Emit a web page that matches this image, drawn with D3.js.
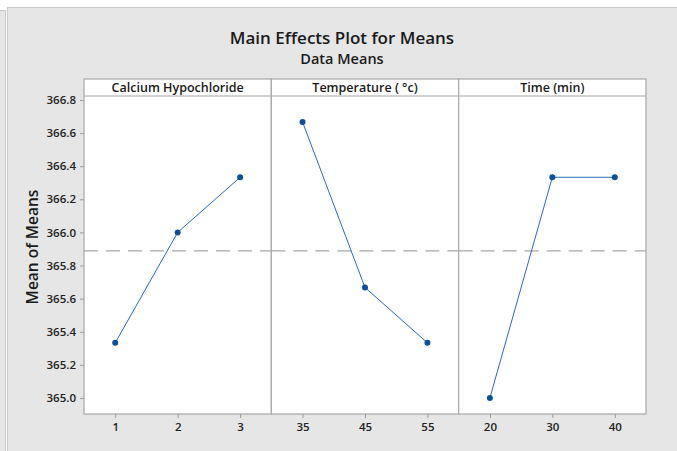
<!DOCTYPE html>
<html><head><meta charset="utf-8">
<script src="https://cdn.jsdelivr.net/npm/d3@7"></script>
<style>body{margin:0;background:#fff;}svg{display:block;}</style>
</head><body>
<script>
const panels = ["Calcium Hypochloride", "Temperature ( °c)", "Time (min)"];
const levels = [["1","2","3"], ["35","45","55"], ["20","30","40"]];
const means = [[365.333, 366.0, 366.333], [366.667, 365.667, 365.333], [365.0, 366.333, 366.333]];
const grandMean = 365.889;
const yTicks = [365.0, 365.2, 365.4, 365.6, 365.8, 366.0, 366.2, 366.4, 366.6, 366.8];

const W = 677, H = 451;
const svg = d3.select("body").append("svg").attr("width", W).attr("height", H);
const font = "'Open Sans', 'Noto Sans', sans-serif";

// background frames
svg.append("rect").attr("x", -2).attr("y", 10.5).attr("width", 7.5).attr("height", H).attr("fill", "#e6e6e6").attr("stroke", "#c8c8c8");
svg.append("rect").attr("x", 7.5).attr("y", 7.5).attr("width", W).attr("height", H).attr("fill", "#e6e6e6").attr("stroke", "#cacaca");

const pLeft = 84, pRight = 646, pTop = 79, headerH = 17, pBottom = 414;
const plotTop = pTop + headerH;
const pw = (pRight - pLeft) / 3;

const y = d3.scaleLinear().domain([364.903, 366.824]).range([pBottom, plotTop]);

// titles
svg.append("text").attr("x", 342).attr("y", 44).attr("text-anchor", "middle")
  .attr("font-family", font).attr("font-size", 17).attr("font-weight", 600).attr("fill", "#1a1a1a")
  .text("Main Effects Plot for Means");
svg.append("text").attr("x", 342).attr("y", 64).attr("text-anchor", "middle")
  .attr("font-family", font).attr("font-size", 14.5).attr("font-weight", 600).attr("fill", "#1a1a1a")
  .text("Data Means");

// y label
svg.append("text").attr("transform", `translate(38,247) rotate(-90)`).attr("text-anchor", "middle")
  .attr("font-family", font).attr("font-size", 15.5).attr("font-weight", 600).attr("fill", "#1a1a1a")
  .text("Mean of Means");

// y axis
const yAxis = svg.append("g").attr("transform", `translate(${pLeft},0)`)
  .call(d3.axisLeft(y).tickValues(yTicks).tickFormat(d3.format(".1f")).tickSize(4).tickPadding(4));
yAxis.select(".domain").remove();
yAxis.selectAll("line").attr("stroke", "#9a9a9a");
yAxis.selectAll("text").attr("font-family", font).attr("font-size", 11.5).attr("font-weight", 600).attr("fill", "#222");

panels.forEach((name, i) => {
  const x0 = pLeft + i * pw;
  const g = svg.append("g");
  g.append("rect").attr("x", x0).attr("y", pTop).attr("width", pw).attr("height", pBottom - pTop)
    .attr("fill", "#fff").attr("stroke", "#a8a8a8").attr("stroke-width", 1.2);
  g.append("line").attr("x1", x0).attr("x2", x0 + pw).attr("y1", plotTop).attr("y2", plotTop)
    .attr("stroke", "#a8a8a8").attr("stroke-width", 1.2);
  g.append("text").attr("x", x0 + pw / 2).attr("y", pTop + 13).attr("text-anchor", "middle")
    .attr("font-family", font).attr("font-size", 12.5).attr("font-weight", 600).attr("fill", "#1a1a1a")
    .text(name);

  const x = d3.scalePoint().domain(levels[i]).range([x0, x0 + pw]).padding(0.5);

  g.append("line").attr("x1", x0).attr("x2", x0 + pw).attr("y1", y(grandMean)).attr("y2", y(grandMean))
    .attr("stroke", "#a8a8a8").attr("stroke-width", 1.2).attr("stroke-dasharray", "14,8");

  const xAxis = g.append("g").attr("transform", `translate(0,${pBottom})`)
    .call(d3.axisBottom(x).tickSize(4).tickPadding(5));
  xAxis.select(".domain").remove();
  xAxis.selectAll("line").attr("stroke", "#9a9a9a");
  xAxis.selectAll("text").attr("font-family", font).attr("font-size", 11.5).attr("font-weight", 600).attr("fill", "#222");

  const pts = levels[i].map((l, j) => [x(l), y(means[i][j])]);
  g.append("path").attr("d", d3.line()(pts)).attr("fill", "none").attr("stroke", "#2a6bbf").attr("stroke-width", 1);
  g.selectAll("circle.p").data(pts).enter().append("circle")
    .attr("cx", d => d[0]).attr("cy", d => d[1]).attr("r", 3).attr("fill", "#0b4f9e");
});
</script>
</body></html>
